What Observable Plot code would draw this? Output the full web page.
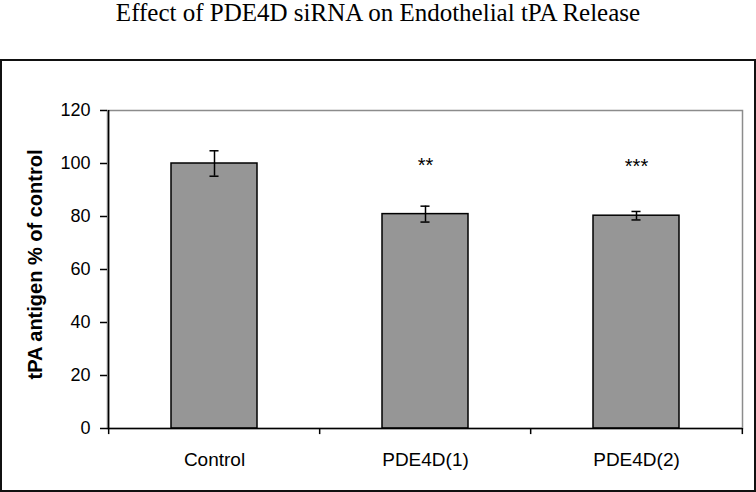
<!DOCTYPE html>
<html><head><meta charset="utf-8">
<script src="https://cdn.jsdelivr.net/npm/d3@7"></script>
<script src="https://cdn.jsdelivr.net/npm/@observablehq/plot@0.6"></script>
<style>
body{margin:0;background:#fff;}
#title{height:59px;font-family:"Liberation Serif","Times New Roman",serif;font-size:25px;line-height:26px;text-align:center;color:#000;white-space:nowrap;}
#box{position:absolute;left:0;top:59px;width:756px;height:433px;border:2px solid #111;box-sizing:border-box;}
#box svg{display:block;}
</style></head><body>
<div id="title">Effect of PDE4D siRNA on Endothelial tPA Release</div>
<div id="box"></div>
<script>
const categories = ["Control", "PDE4D(1)", "PDE4D(2)"];
const values = [100, 80.9, 80.3];
const errors = [4.8, 3.0, 1.6];
const sigLabels = ["", "**", "***"];
const sigY = [null, 99.2, 98.9];
const yTicks = [0, 20, 40, 60, 80, 100, 120];
const yTitle = "tPA antigen % of control";

const data = categories.map((c, i) => ({cat: c, value: values[i], err: errors[i], sig: sigLabels[i], sigY: sigY[i]}));
const W = 752, H = 429, mL = 105, mR = 12, mT = 49, mB = 62;
const step = (W - mL - mR) / categories.length;
const pad = 0.594;
const bw = step * (1 - pad);
const capInset = (bw - 9) / 2;

const chart = Plot.plot({
  width: W, height: H,
  marginLeft: mL, marginRight: mR, marginTop: mT, marginBottom: mB,
  style: {fontFamily: "'Liberation Sans', Arial, sans-serif", fontSize: "18px", color: "#000", background: "transparent", overflow: "visible"},
  x: {domain: categories, paddingInner: pad, paddingOuter: pad / 2},
  y: {domain: [0, 120]},
  marks: [
    Plot.frame({stroke: "#8c8c8c", strokeWidth: 1.5}),
    Plot.barY(data, {x: "cat", y: "value", fill: "#969696", stroke: "#000", strokeWidth: 1.5}),
    Plot.ruleX(data, {x: "cat", y1: d => d.value - d.err, y2: d => d.value + d.err, stroke: "#000", strokeWidth: 1.5}),
    Plot.tickY(data, {x: "cat", y: d => d.value + d.err, insetLeft: capInset, insetRight: capInset, stroke: "#000", strokeWidth: 1.5}),
    Plot.tickY(data, {x: "cat", y: d => d.value - d.err, insetLeft: capInset, insetRight: capInset, stroke: "#000", strokeWidth: 1.5}),
    Plot.text(data.filter(d => d.sig), {x: "cat", y: "sigY", text: "sig", fontSize: 20, fill: "#000"}),
    Plot.ruleY([0], {stroke: "#000", strokeWidth: 1.5}),
    Plot.ruleX(categories, {dx: -step / 2, y1: 0, y2: -2.3, stroke: "#000", strokeWidth: 1.5}),
    Plot.ruleX([categories[categories.length - 1]], {dx: step / 2, y1: 0, y2: -2.3, stroke: "#000", strokeWidth: 1.5}),
    Plot.ruleX([categories[0]], {dx: -step / 2, y1: 0, y2: 120, stroke: "#000", strokeWidth: 1.5}),
    Plot.axisY({ticks: yTicks, tickSize: 7, tickPadding: 10, label: null, stroke: "#000", strokeWidth: 1.5, fontSize: 18}),
    Plot.axisX({tickSize: 0, tickPadding: 24, label: null, fontSize: 19}),
    Plot.text([yTitle], {frameAnchor: "left", textAnchor: "middle", rotate: -90, dx: -72, dy: -5, fontWeight: "bold", fontSize: 20, fill: "#000"})
  ]
});
document.getElementById("box").appendChild(chart);
</script>
</body></html>
